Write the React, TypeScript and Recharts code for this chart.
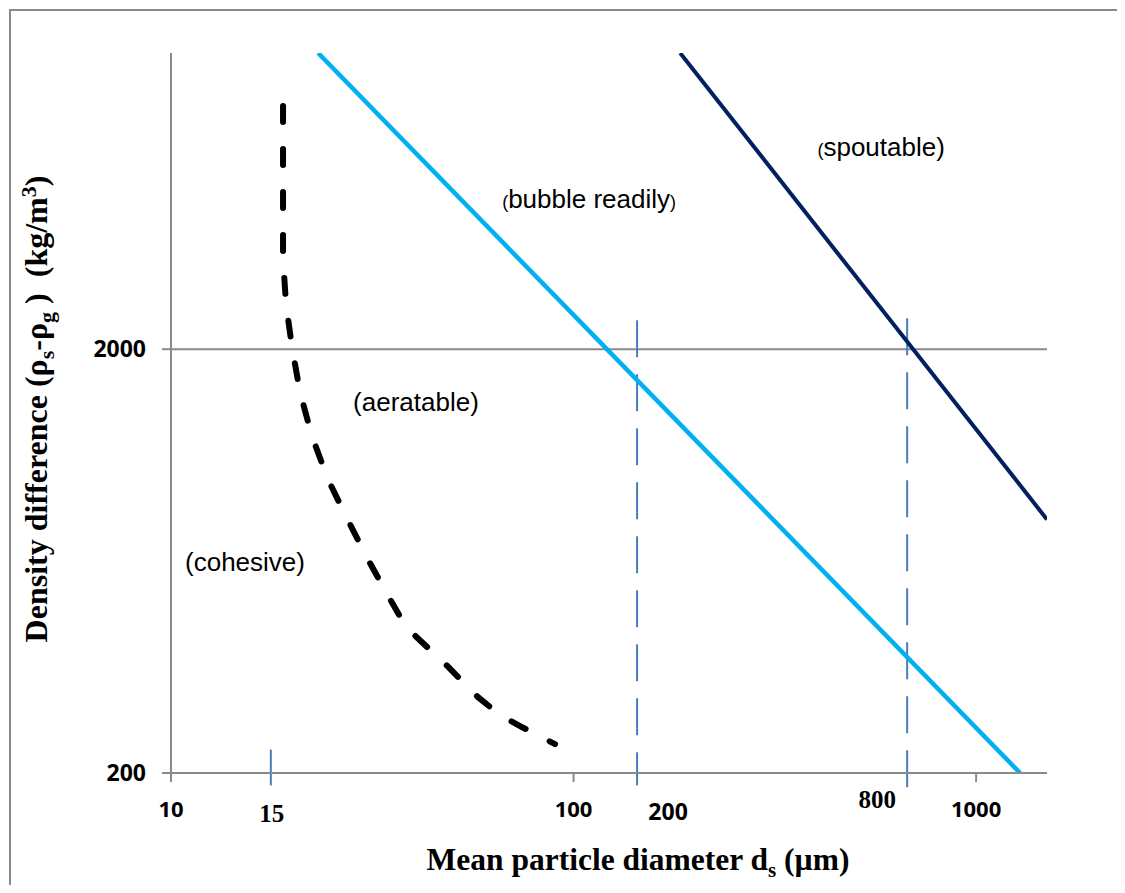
import { LineChart, Line, XAxis, YAxis, ReferenceLine, ReferenceDot } from "recharts";

// axis ticks
const X_TICKS = [10, 100, 1000];
const Y_TICKS = [200, 2000];

// boundary lines: d = particle diameter (µm), rho = density difference (kg/m3)
const AERATABLE_BUBBLING = [
  { d: 23.2, rho: 10000 },
  { d: 1286, rho: 200 },
];
const BUBBLING_SPOUTABLE = [
  { d: 184, rho: 10000 },
  { d: 1500, rho: 793 },
];
const COHESIVE_AERATABLE = [
  { d: 18.98, rho: 7500 },
  { d: 18.98, rho: 3264 },
  { d: 19.31, rho: 2556 },
  { d: 19.98, rho: 2022 },
  { d: 20.92, rho: 1582 },
  { d: 22.4, rho: 1246 },
  { d: 24.55, rho: 986 },
  { d: 27.06, rho: 815 },
  { d: 30.86, rho: 638 },
  { d: 34.8, rho: 519 },
  { d: 37.71, rho: 455 },
  { d: 40.15, rho: 424 },
  { d: 48.23, rho: 360 },
  { d: 57.9, rho: 302 },
  { d: 65.68, rho: 274 },
  { d: 73.65, rho: 258 },
  { d: 89.95, rho: 234 },
];

// vertical markers with their labels
const MARKER_D = [17.7, 143.8, 674];
const MARKER_TOP = [227, 2342, 2367];
const MARKER_BOTTOM = [187, 187, 182];
const MARKER_LABELS = ["15", "200", "800"];

// group names, placed at (d, rho)
const REGION_NAMES = ["spoutable", "bubble readily", "aeratable", "cohesive"];
const REGION_D = [581, 109.3, 40.6, 15.27];
const REGION_RHO = [6000, 4524, 1507, 630];

const AXIS_GREY = "#8a8a8a";
const MARKER_BLUE = "#4a7ebb";
const SANS = "'Open Sans', sans-serif";
const SERIF = "'Liberation Serif', 'Times New Roman', serif";
const ARIAL = "'Liberation Sans', Arial, sans-serif";

// per-marker label look: offset from the line's lower end, font
const MARKER_STYLE = [
  { dx: 1, dy: 37, font: SERIF, size: 25 },
  { dx: 31, dy: 35, font: SANS, size: 23 },
  { dx: -30, dy: 18, font: SERIF, size: 25 },
];

const XTick = (props: any) => {
  const { x, y, payload } = props;
  return (
    <text x={x} y={y + 35} textAnchor="middle" fontFamily={SANS} fontWeight={700} fontSize={22} fill="#000">
      {payload.value}
    </text>
  );
};

const YTick = (props: any) => {
  const { x, y, payload } = props;
  return (
    <text x={x} y={y} dy="0.36em" textAnchor="end" fontFamily={SANS} fontWeight={700} fontSize={23} fill="#000">
      {payload.value}
    </text>
  );
};

const markerLabel = (i: number) => (props: any) => {
  const vb = props.viewBox || {};
  const s = MARKER_STYLE[i];
  const cx = (vb.x ?? 0) + (vb.width ?? 0) / 2 + s.dx;
  const by = (vb.y ?? 0) + (vb.height ?? 0) + s.dy;
  return (
    <text x={cx} y={by} textAnchor="middle" fontFamily={s.font} fontWeight={700} fontSize={s.size} fill="#000">
      {MARKER_LABELS[i]}
    </text>
  );
};

// some of the original labels have a smaller opening/closing bracket
const SMALL_OPEN = [true, true, false, false];
const SMALL_CLOSE = [false, true, false, false];

const regionLabel = (i: number) => (props: any) => {
  const vb = props.viewBox || {};
  const cx = (vb.x ?? 0) + (vb.width ?? 0) / 2;
  const cy = (vb.y ?? 0) + (vb.height ?? 0) / 2;
  return (
    <text x={cx} y={cy} dy="0.36em" textAnchor="middle" fontFamily={ARIAL} fontSize={26} fill="#000">
      <tspan fontSize={SMALL_OPEN[i] ? 18 : 26}>(</tspan>
      <tspan>{REGION_NAMES[i]}</tspan>
      <tspan fontSize={SMALL_CLOSE[i] ? 18 : 26}>)</tspan>
    </text>
  );
};

const XTitle = (props: any) => {
  const vb = props.viewBox || {};
  const cx = vb.x + vb.width / 2 + 29;
  const by = vb.y + 97;
  return (
    <text x={cx} y={by} textAnchor="middle" fontFamily={SERIF} fontWeight={700} fontSize={31.5} fill="#000">
      Mean particle diameter d
      <tspan fontSize={21} dy={7}>s</tspan>
      <tspan dy={-7}> (µm)</tspan>
    </text>
  );
};

const YTitle = (props: any) => {
  const vb = props.viewBox || {};
  const bx = vb.x - 64;
  const cy = vb.y + vb.height / 2 - 4;
  return (
    <text
      x={bx}
      y={cy}
      transform={`rotate(-90, ${bx}, ${cy})`}
      textAnchor="middle"
      fontFamily={SERIF}
      fontWeight={700}
      fontSize={32}
      fill="#000"
      style={{ whiteSpace: "pre" }}
    >
      Density difference (ρ
      <tspan fontSize={22} dy={7}>s</tspan>
      <tspan dy={-7}>-ρ</tspan>
      <tspan fontSize={22} dy={7}>g</tspan>
      <tspan dy={-7}>{" )  (kg/m"}</tspan>
      <tspan fontSize={22} dy={-11}>3</tspan>
      <tspan dy={11}>)</tspan>
    </text>
  );
};

export default function App() {
  return (
    <div style={{ position: "relative", width: 1117, height: 877 }}>
      <div
        style={{
          position: "absolute",
          left: 1,
          top: 1,
          right: 0,
          bottom: 0,
          borderTop: `2px solid ${AXIS_GREY}`,
          borderLeft: `2px solid ${AXIS_GREY}`,
        }}
      />
      <div style={{ position: "absolute", left: 0, top: 0 }}>
        <LineChart width={1117} height={877} margin={{ top: 45, right: 78, bottom: 72, left: 103 }}>
          <XAxis
            dataKey="d"
            type="number"
            scale="log"
            domain={[10, 1500]}
            allowDataOverflow
            ticks={X_TICKS}
            height={40}
            tickSize={9}
            tickMargin={0}
            tick={<XTick />}
            axisLine={{ stroke: AXIS_GREY, strokeWidth: 2 }}
            tickLine={{ stroke: AXIS_GREY, strokeWidth: 2 }}
            label={{ content: XTitle }}
          />
          <YAxis
            dataKey="rho"
            type="number"
            scale="log"
            domain={[200, 10000]}
            allowDataOverflow
            ticks={Y_TICKS}
            width={60}
            tickSize={9}
            tickMargin={16}
            tick={<YTick />}
            axisLine={{ stroke: AXIS_GREY, strokeWidth: 2 }}
            tickLine={{ stroke: AXIS_GREY, strokeWidth: 2 }}
            label={{ content: YTitle }}
          />
          <ReferenceLine y={2000} stroke={AXIS_GREY} strokeWidth={2} />

          {MARKER_D.map((d, i) => (
            <ReferenceLine
              key={`m${i}`}
              segment={[
                { x: d, y: MARKER_TOP[i] },
                { x: d, y: MARKER_BOTTOM[i] },
              ]}
              ifOverflow="visible"
              stroke={MARKER_BLUE}
              strokeWidth={2}
              strokeDasharray="37 17"
              label={{ content: markerLabel(i) }}
            />
          ))}

          <Line
            data={COHESIVE_AERATABLE}
            dataKey="rho"
            stroke="#000"
            strokeWidth={6}
            strokeDasharray="16 27"
            strokeLinecap="round"
            dot={false}
            activeDot={false}
            isAnimationActive={false}
          />
          <Line
            data={AERATABLE_BUBBLING}
            dataKey="rho"
            stroke="#00b0f0"
            strokeWidth={4.5}
            dot={false}
            activeDot={false}
            isAnimationActive={false}
          />
          <Line
            data={BUBBLING_SPOUTABLE}
            dataKey="rho"
            stroke="#002060"
            strokeWidth={4}
            dot={false}
            activeDot={false}
            isAnimationActive={false}
          />

          {REGION_NAMES.map((name, i) => (
            <ReferenceDot
              key={name}
              x={REGION_D[i]}
              y={REGION_RHO[i]}
              r={0}
              fill="none"
              stroke="none"
              ifOverflow="visible"
              label={{ content: regionLabel(i) }}
            />
          ))}
        </LineChart>
      </div>
    </div>
  );
}
